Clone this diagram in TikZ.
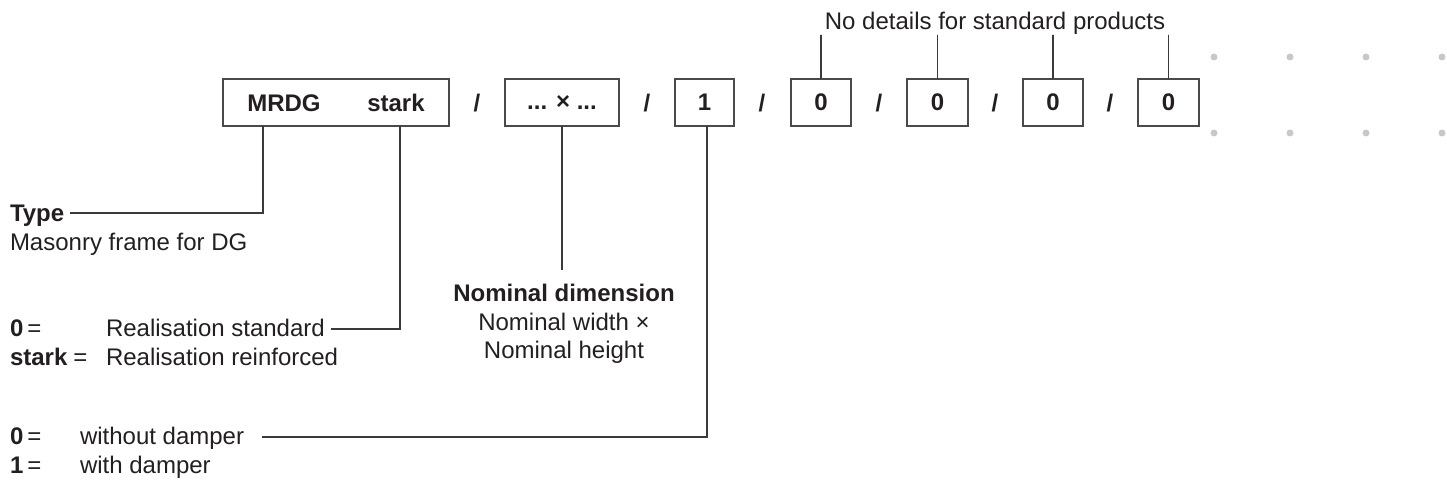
\documentclass[tikz,border=0pt]{standalone}
\usepackage{fontspec}
\setmainfont{Liberation Sans}
\definecolor{txt}{HTML}{231F20}
\definecolor{boxc}{HTML}{4A4A4A}
\definecolor{linec}{HTML}{3A3A3A}
\definecolor{dotc}{HTML}{C8C8C8}
\tikzset{
  lbl/.style={font=\fontsize{24}{28}\selectfont, text=txt, inner sep=0pt, outer sep=0pt},
  blbl/.style={font=\fontsize{24}{28}\selectfont\bfseries, text=txt, inner sep=0pt, outer sep=0pt},
  codebox/.style={draw=boxc, line width=1.6pt, minimum height=47pt, inner sep=0pt, outer sep=0pt,
                  font=\fontsize{24}{28}\selectfont\bfseries, text=txt},
  conn/.style={draw=linec, line width=1.3pt},
  gdot/.style={circle, fill=dotc, minimum size=7pt, inner sep=0pt}
}
\begin{document}
\begin{tikzpicture}[x=1pt,y=-1pt]
\useasboundingbox (0,0) rectangle (1447,486);
% code boxes
\node[codebox, minimum width=226pt] (b1) at (336,102.5) {};
\node[blbl, anchor=base] (mrdg) at (284,112) {MRDG};
\node[blbl, anchor=base] (stark) at (396,112) {stark};
\node[codebox, minimum width=114pt] (b2) at (562,102.5) {... × ...};
\node[codebox, minimum width=59pt] (b3) at (704.5,102.5) {1};
\node[codebox, minimum width=60pt] (b4) at (821,102.5) {0};
\node[codebox, minimum width=61pt] (b5) at (937.5,102.5) {0};
\node[codebox, minimum width=60pt] (b6) at (1053,102.5) {0};
\node[codebox, minimum width=61pt] (b7) at (1168.5,102.5) {0};
% slashes
\foreach \x/\n in {477/s1,647/s2,762/s3,879/s4,995/s5,1110/s6}
  \node[blbl, anchor=base] (\n) at (\x,112) {/};
% dots
\foreach \x [count=\i] in {1214,1290,1366,1442}{
  \node[gdot] (dt\i) at (\x,57) {};
  \node[gdot] (db\i) at (\x,133) {};
}
% top label
\node[lbl, anchor=base] (nodet) at (995,30) {No details for standard products};
\foreach \b in {b4,b5,b6,b7}
  \draw[conn] (\b.north) -- (\b.north |- nodet.south) -- ++(0,6);
% Type
\node[blbl, anchor=base west] (type) at (10,221.7) {Type};
\node[lbl, anchor=base west] (mason) at (10,250.7) {Masonry frame for DG};
\coordinate (c1) at (263,213);
\draw[conn] (b1.south -| c1) -- (c1) -- ([xshift=6pt]type.east |- c1);
% Realisation
\node[blbl, anchor=base west] (z0) at (10,336.7) {0};
\node[lbl, anchor=base west] at (z0.base east) {\,=};
\node[lbl, anchor=base west] (rs) at (106,336.7) {Realisation standard};
\node[blbl, anchor=base west] (zs) at (10,365.5) {stark};
\node[lbl, anchor=base west] at ([xshift=6pt]zs.base east) {=};
\node[lbl, anchor=base west] (rr) at (106,365.5) {Realisation reinforced};
\coordinate (c2) at (400,329);
\draw[conn] (b1.south -| c2) -- (c2) -- ([xshift=6pt]rs.east |- c2);
% Nominal dimension
\node[blbl, anchor=base] (nd) at (564,301) {Nominal dimension};
\node[lbl, anchor=base] (nw) at (564,330) {Nominal width ×};
\node[lbl, anchor=base] (nh) at (564,358.5) {Nominal height};
\draw[conn] (b2.south) -- ([yshift=14pt]b2.south |- nd.north);
% damper
\node[blbl, anchor=base west] (d0) at (10,444.5) {0};
\node[lbl, anchor=base west] at (d0.base east) {\,=};
\node[lbl, anchor=base west] (wo) at (80,444.5) {without damper};
\node[blbl, anchor=base west] (d1) at (10,473.5) {1};
\node[lbl, anchor=base west] at (d1.base east) {\,=};
\node[lbl, anchor=base west] (wi) at (80,473.5) {with damper};
\coordinate (c3) at (707,437);
\draw[conn] (b3.south -| c3) -- (c3) -- ([xshift=18pt]wo.east |- c3);
\end{tikzpicture}
\end{document}
